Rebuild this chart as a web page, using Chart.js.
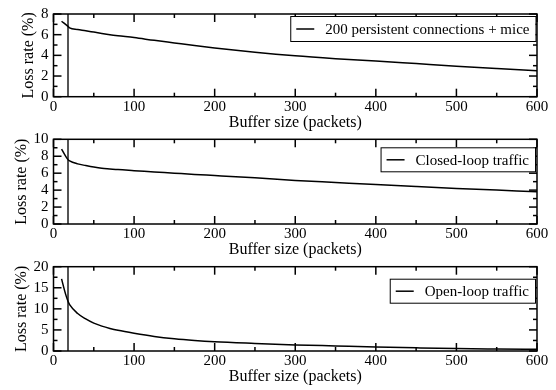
<!DOCTYPE html>
<html>
<head>
<meta charset="utf-8">
<script src="https://cdn.jsdelivr.net/npm/chart.js@4"></script>
<style>
  html, body { margin: 0; padding: 0; background: #fff; }
  body { width: 556px; height: 390px; position: relative; overflow: hidden; }
  .panel { position: absolute; left: 0; width: 556px; }
</style>
</head>
<body>
<div class="panel" style="top:0px;height:133px"><canvas id="c1" width="556" height="133"></canvas></div>
<div class="panel" style="top:120px;height:140px"><canvas id="c2" width="556" height="140"></canvas></div>
<div class="panel" style="top:247px;height:143px"><canvas id="c3" width="556" height="143"></canvas></div>
<script>
// ---------------- data ----------------
const seriesLabels = ["200 persistent connections + mice", "Closed-loop traffic", "Open-loop traffic"];
const xTitle = "Buffer size (packets)";
const yTitle = "Loss rate (%)";

const buf1 = [10, 18, 20, 30, 40, 50, 60, 70, 80, 100, 125, 150, 175, 200, 250, 300, 350, 400, 450, 500, 550, 600];
const loss1 = [7.3, 6.8, 6.65, 6.5, 6.38, 6.25, 6.12, 6.0, 5.9, 5.72, 5.45, 5.2, 4.95, 4.72, 4.3, 3.95, 3.68, 3.45, 3.2, 2.95, 2.72, 2.5];

const buf2 = [10, 18, 20, 30, 40, 50, 60, 70, 80, 100, 125, 150, 175, 200, 250, 300, 350, 400, 450, 500, 550, 600];
const loss2 = [8.85, 7.6, 7.45, 7.1, 6.9, 6.72, 6.58, 6.5, 6.42, 6.3, 6.15, 6.0, 5.85, 5.72, 5.45, 5.15, 4.9, 4.65, 4.42, 4.2, 4.0, 3.8];

const buf3 = [10, 15, 18, 20, 30, 40, 50, 60, 70, 80, 100, 125, 150, 175, 200, 250, 300, 350, 400, 450, 500, 550, 600];
const loss3 = [17.1, 13.5, 11.8, 11.0, 8.9, 7.6, 6.6, 5.9, 5.35, 4.9, 4.2, 3.45, 2.9, 2.5, 2.2, 1.8, 1.45, 1.2, 0.95, 0.75, 0.58, 0.48, 0.4];

const markerBuffer = 18;          // vertical reference line (buffer size)
const xRange = [0, 600];
const xMajorStep = 100, xMinorStep = 50;
const yMaxes = [8, 10, 20];
const yMajorSteps = [2, 2, 5];
const yMinorSteps = [1, 1, 2.5];

// ---------------- helpers ----------------
const FONT = "'Liberation Serif', 'Times New Roman', serif";

const frameTicks = {
  id: 'frameTicks',
  afterDatasetsDraw(chart, args, opts) {
    const {ctx, chartArea: a, scales: {x, y}} = chart;
    ctx.save();
    ctx.strokeStyle = '#000';
    ctx.lineWidth = 1.5;
    const seg = (x0, y0, x1, y1) => { ctx.beginPath(); ctx.moveTo(x0, y0); ctx.lineTo(x1, y1); ctx.stroke(); };
    const isMajor = (v, step) => Math.abs(v / step - Math.round(v / step)) < 1e-6;
    for (let v = x.min; v <= x.max + 1e-9; v += opts.xMinor) {
      const p = x.getPixelForValue(v);
      const len = isMajor(v, opts.xMajor) ? 8 : 4;
      seg(p, a.bottom, p, a.bottom - len);
      seg(p, a.top, p, a.top + len);
    }
    for (let v = y.min; v <= y.max + 1e-9; v += opts.yMinor) {
      const p = y.getPixelForValue(v);
      const len = isMajor(v, opts.yMajor) ? 8 : 4;
      seg(a.left, p, a.left + len, p);
      seg(a.right, p, a.right - len, p);
    }
    ctx.lineWidth = 1.5;
    ctx.strokeRect(a.left, a.top, a.right - a.left, a.bottom - a.top);
    ctx.restore();
  }
};

const boxLegend = {
  id: 'boxLegend',
  afterDraw(chart, args, opts) {
    const {ctx, chartArea: a} = chart;
    const ds = chart.data.datasets[0];
    ctx.save();
    ctx.font = '15px ' + FONT;
    const tw = ctx.measureText(ds.label).width;
    const right = a.right - opts.rightGap;
    const left = right - (6 + 18 + 11 + tw + 6);
    const top = a.top + opts.topGap;
    const h = opts.height;
    ctx.fillStyle = '#fff';
    ctx.fillRect(left, top, right - left, h);
    ctx.strokeStyle = '#000';
    ctx.lineWidth = 1;
    ctx.strokeRect(left + 0.5, top + 0.5, right - left, h);
    const cy = top + h / 2 + 0.5;
    ctx.lineWidth = 1.5;
    ctx.beginPath(); ctx.moveTo(left + 6, cy); ctx.lineTo(left + 24, cy); ctx.stroke();
    ctx.fillStyle = '#000';
    ctx.textBaseline = 'middle';
    ctx.textAlign = 'left';
    ctx.fillText(ds.label, left + 35, cy + 1);
    ctx.restore();
  }
};

function makeChart(id, idx, xs, ys, layoutCfg) {
  const data = xs.map((v, i) => ({x: v, y: ys[i]}));
  const yMax = yMaxes[idx];
  return new Chart(document.getElementById(id), {
    type: 'line',
    data: {
      datasets: [
        {
          label: seriesLabels[idx],
          data: data,
          borderColor: '#000',
          borderWidth: 1.5,
          pointRadius: 0,
          fill: false,
          cubicInterpolationMode: 'monotone'
        },
        {
          label: 'marker',
          data: [{x: markerBuffer, y: 0}, {x: markerBuffer, y: yMax}],
          borderColor: '#555',
          borderWidth: 2,
          pointRadius: 0,
          fill: false
        }
      ]
    },
    options: {
      responsive: false,
      animation: false,
      devicePixelRatio: 1,
      layout: { padding: { top: layoutCfg.top, right: 19, left: 0, bottom: 0 } },
      plugins: {
        legend: { display: false },
        tooltip: { enabled: false },
        frameTicks: { xMajor: xMajorStep, xMinor: xMinorStep, yMajor: yMajorSteps[idx], yMinor: yMinorSteps[idx] },
        boxLegend: layoutCfg.legend
      },
      scales: {
        x: {
          type: 'linear',
          min: xRange[0], max: xRange[1],
          grid: { display: false, drawTicks: false },
          border: { display: false },
          ticks: { stepSize: xMajorStep, padding: 1, autoSkip: false, color: '#000', font: { family: FONT, size: 15 }, maxRotation: 0 },
          title: { display: true, text: xTitle, color: '#000', font: { family: FONT, size: 16 }, padding: { top: 0, bottom: layoutCfg.titlePadBottom } },
          afterFit: (s) => { s.height = layoutCfg.xAxisH; }
        },
        y: {
          min: 0, max: yMax,
          grid: { display: false, drawTicks: false },
          border: { display: false },
          ticks: { stepSize: yMajorSteps[idx], padding: 5, autoSkip: false, color: '#000', font: { family: FONT, size: 15 } },
          title: { display: true, text: yTitle, color: '#000', font: { family: FONT, size: 16 }, padding: { top: layoutCfg.yTitlePad, bottom: 0 } },
          afterFit: (s) => { s.width = 53.5; }
        }
      }
    },
    plugins: [frameTicks, boxLegend]
  });
}

makeChart('c1', 0, buf1, loss1, { top: 13, xAxisH: 133 - 96.7, titlePadBottom: 1, yTitlePad: 19,
  legend: { rightGap: 1.5, topGap: 2, height: 25 } });
makeChart('c2', 1, buf2, loss2, { top: 19.3, xAxisH: 140 - 104, titlePadBottom: 1, yTitlePad: 12.5,
  legend: { rightGap: 2, topGap: 8, height: 24 } });
makeChart('c3', 2, buf3, loss3, { top: 19.7, xAxisH: 143 - 104, titlePadBottom: 3.7, yTitlePad: 12.5,
  legend: { rightGap: 2, topGap: 12, height: 24 } });
</script>
</body>
</html>
